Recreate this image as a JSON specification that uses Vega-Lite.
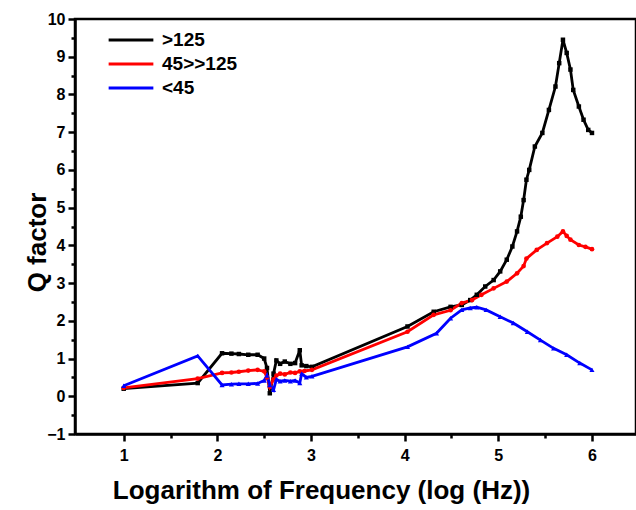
{
  "$schema": "https://vega.github.io/schema/vega-lite/v6.json",
  "autosize": {"type": "none"},
  "width": 561,
  "height": 415,
  "padding": {"left": 75, "top": 19, "right": 0, "bottom": 76},
  "background": "white",
  "config": {
    "view": {"stroke": "black", "strokeWidth": 2.5},
    "font": "Liberation Sans",
    "axis": {
      "domainColor": "black", "domainWidth": 2.5,
      "tickColor": "black", "tickWidth": 2.5,
      "labelFont": "Liberation Sans", "labelFontWeight": "bold", "labelFontSize": 16, "labelColor": "black",
      "titleFont": "Liberation Sans", "titleFontWeight": "bold", "titleFontSize": 26, "titleColor": "black",
      "grid": false
    },
    "legend": {
      "labelFont": "Liberation Sans", "labelFontWeight": "bold", "labelFontSize": 19, "labelColor": "black",
      "symbolType": "stroke", "symbolStrokeWidth": 3, "symbolSize": 2000, "rowPadding": 0, "labelOffset": 7,
      "clipHeight": 24
    }
  },
  "data": {"values": [
    {"series": ">125", "x": 1.0, "q": 0.2},
    {"series": ">125", "x": 1.79, "q": 0.35},
    {"series": ">125", "x": 2.05, "q": 1.14},
    {"series": ">125", "x": 2.15, "q": 1.13},
    {"series": ">125", "x": 2.23, "q": 1.12},
    {"series": ">125", "x": 2.33, "q": 1.1},
    {"series": ">125", "x": 2.43, "q": 1.1},
    {"series": ">125", "x": 2.5, "q": 1.0},
    {"series": ">125", "x": 2.53, "q": 0.75},
    {"series": ">125", "x": 2.56, "q": 0.08},
    {"series": ">125", "x": 2.6, "q": 0.6},
    {"series": ">125", "x": 2.63, "q": 0.95},
    {"series": ">125", "x": 2.67, "q": 0.86},
    {"series": ">125", "x": 2.72, "q": 0.92},
    {"series": ">125", "x": 2.78, "q": 0.86},
    {"series": ">125", "x": 2.83, "q": 0.88},
    {"series": ">125", "x": 2.88, "q": 1.22},
    {"series": ">125", "x": 2.9, "q": 0.82},
    {"series": ">125", "x": 2.95, "q": 0.8},
    {"series": ">125", "x": 3.01, "q": 0.78},
    {"series": ">125", "x": 4.03, "q": 1.85},
    {"series": ">125", "x": 4.31, "q": 2.24},
    {"series": ">125", "x": 4.49, "q": 2.37},
    {"series": ">125", "x": 4.61, "q": 2.42},
    {"series": ">125", "x": 4.7, "q": 2.55},
    {"series": ">125", "x": 4.77, "q": 2.69},
    {"series": ">125", "x": 4.86, "q": 2.91},
    {"series": ">125", "x": 4.95, "q": 3.08},
    {"series": ">125", "x": 5.02, "q": 3.31},
    {"series": ">125", "x": 5.09, "q": 3.62},
    {"series": ">125", "x": 5.15, "q": 3.97},
    {"series": ">125", "x": 5.2, "q": 4.37},
    {"series": ">125", "x": 5.24, "q": 4.76},
    {"series": ">125", "x": 5.27, "q": 5.2},
    {"series": ">125", "x": 5.3, "q": 5.74},
    {"series": ">125", "x": 5.33, "q": 6.0},
    {"series": ">125", "x": 5.39, "q": 6.62},
    {"series": ">125", "x": 5.47, "q": 6.98},
    {"series": ">125", "x": 5.54, "q": 7.59},
    {"series": ">125", "x": 5.61, "q": 8.21},
    {"series": ">125", "x": 5.65, "q": 8.83},
    {"series": ">125", "x": 5.69, "q": 9.45},
    {"series": ">125", "x": 5.73, "q": 9.1},
    {"series": ">125", "x": 5.77, "q": 8.66},
    {"series": ">125", "x": 5.8, "q": 8.12},
    {"series": ">125", "x": 5.86, "q": 7.68},
    {"series": ">125", "x": 5.91, "q": 7.33},
    {"series": ">125", "x": 5.96, "q": 7.06},
    {"series": ">125", "x": 6.0, "q": 6.98},
    {"series": "45>>125", "x": 1.0, "q": 0.22},
    {"series": "45>>125", "x": 1.79, "q": 0.47},
    {"series": "45>>125", "x": 2.05, "q": 0.62},
    {"series": "45>>125", "x": 2.15, "q": 0.63},
    {"series": "45>>125", "x": 2.23, "q": 0.65},
    {"series": "45>>125", "x": 2.33, "q": 0.68},
    {"series": "45>>125", "x": 2.43, "q": 0.7},
    {"series": "45>>125", "x": 2.5, "q": 0.66},
    {"series": "45>>125", "x": 2.53, "q": 0.5},
    {"series": "45>>125", "x": 2.56, "q": 0.25},
    {"series": "45>>125", "x": 2.6, "q": 0.45},
    {"series": "45>>125", "x": 2.63, "q": 0.55},
    {"series": "45>>125", "x": 2.67, "q": 0.6},
    {"series": "45>>125", "x": 2.72, "q": 0.58},
    {"series": "45>>125", "x": 2.78, "q": 0.63},
    {"series": "45>>125", "x": 2.83, "q": 0.62},
    {"series": "45>>125", "x": 2.88, "q": 0.66},
    {"series": "45>>125", "x": 2.93, "q": 0.67},
    {"series": "45>>125", "x": 3.01, "q": 0.7},
    {"series": "45>>125", "x": 4.03, "q": 1.71},
    {"series": "45>>125", "x": 4.31, "q": 2.16},
    {"series": "45>>125", "x": 4.49, "q": 2.28},
    {"series": "45>>125", "x": 4.61, "q": 2.47},
    {"series": "45>>125", "x": 4.72, "q": 2.55},
    {"series": "45>>125", "x": 4.82, "q": 2.69},
    {"series": "45>>125", "x": 4.95, "q": 2.86},
    {"series": "45>>125", "x": 5.09, "q": 3.04},
    {"series": "45>>125", "x": 5.2, "q": 3.26},
    {"series": "45>>125", "x": 5.27, "q": 3.45},
    {"series": "45>>125", "x": 5.3, "q": 3.65},
    {"series": "45>>125", "x": 5.41, "q": 3.88},
    {"series": "45>>125", "x": 5.52, "q": 4.06},
    {"series": "45>>125", "x": 5.63, "q": 4.23},
    {"series": "45>>125", "x": 5.69, "q": 4.37},
    {"series": "45>>125", "x": 5.73, "q": 4.25},
    {"series": "45>>125", "x": 5.77, "q": 4.15},
    {"series": "45>>125", "x": 5.86, "q": 4.01},
    {"series": "45>>125", "x": 5.93, "q": 3.96},
    {"series": "45>>125", "x": 6.0, "q": 3.9},
    {"series": "<45", "x": 1.0, "q": 0.28},
    {"series": "<45", "x": 1.79, "q": 1.07},
    {"series": "<45", "x": 2.05, "q": 0.3},
    {"series": "<45", "x": 2.15, "q": 0.32},
    {"series": "<45", "x": 2.23, "q": 0.33},
    {"series": "<45", "x": 2.33, "q": 0.33},
    {"series": "<45", "x": 2.43, "q": 0.34},
    {"series": "<45", "x": 2.5, "q": 0.42},
    {"series": "<45", "x": 2.53, "q": 0.55},
    {"series": "<45", "x": 2.56, "q": 0.3},
    {"series": "<45", "x": 2.6, "q": 0.17},
    {"series": "<45", "x": 2.63, "q": 0.45},
    {"series": "<45", "x": 2.67, "q": 0.4},
    {"series": "<45", "x": 2.72, "q": 0.42},
    {"series": "<45", "x": 2.78, "q": 0.4},
    {"series": "<45", "x": 2.83, "q": 0.42},
    {"series": "<45", "x": 2.88, "q": 0.35},
    {"series": "<45", "x": 2.9, "q": 0.6},
    {"series": "<45", "x": 2.95, "q": 0.5},
    {"series": "<45", "x": 3.01, "q": 0.53},
    {"series": "<45", "x": 4.03, "q": 1.31},
    {"series": "<45", "x": 4.34, "q": 1.67},
    {"series": "<45", "x": 4.49, "q": 2.07},
    {"series": "<45", "x": 4.61, "q": 2.29},
    {"series": "<45", "x": 4.7, "q": 2.34},
    {"series": "<45", "x": 4.77, "q": 2.36},
    {"series": "<45", "x": 4.87, "q": 2.29},
    {"series": "<45", "x": 5.02, "q": 2.11},
    {"series": "<45", "x": 5.16, "q": 1.94},
    {"series": "<45", "x": 5.31, "q": 1.71},
    {"series": "<45", "x": 5.45, "q": 1.49},
    {"series": "<45", "x": 5.59, "q": 1.27},
    {"series": "<45", "x": 5.73, "q": 1.1},
    {"series": "<45", "x": 5.87, "q": 0.88},
    {"series": "<45", "x": 6.0, "q": 0.7}
  ]},
  "encoding": {
    "x": {
      "field": "x", "type": "quantitative",
      "scale": {"domain": [0.48, 6.47], "nice": false, "zero": false},
      "axis": {
        "title": "Logarithm of Frequency (log (Hz))",
        "values": [1, 1.5, 2, 2.5, 3, 3.5, 4, 4.5, 5, 5.5, 6],
        "labelExpr": "datum.value % 1 === 0 ? format(datum.value, 'd') : ''",
        "tickSize": {"condition": {"test": "datum.value % 1 === 0", "value": 7}, "value": 4},
        "labelPadding": 6, "titlePadding": 14, "labelFlush": false,
        "titleX": 246, "titleAlign": "center"
      }
    },
    "y": {
      "field": "q", "type": "quantitative",
      "scale": {"domain": [-1, 10], "nice": false, "zero": false},
      "axis": {
        "title": "Q factor",
        "values": [-1, -0.5, 0, 0.5, 1, 1.5, 2, 2.5, 3, 3.5, 4, 4.5, 5, 5.5, 6, 6.5, 7, 7.5, 8, 8.5, 9, 9.5, 10],
        "labelExpr": "datum.value % 1 === 0 ? format(datum.value, 'd') : ''",
        "tickSize": {"condition": {"test": "datum.value % 1 === 0", "value": 7}, "value": 4},
        "labelPadding": 3, "labelFlush": false,
        "titleX": -25, "titleY": 223, "titleAlign": "center", "titleBaseline": "bottom", "titleAngle": -90
      }
    }
  },
  "layer": [
    {
      "mark": {"type": "line", "strokeWidth": 2.8},
      "encoding": {
        "color": {
          "field": "series", "type": "nominal",
          "scale": {"domain": [">125", "45>>125", "<45"], "range": ["#000000", "#FF0000", "#0000FF"]},
          "legend": {"title": null, "orient": "none", "legendX": 32, "legendY": 9}
        }
      }
    },
    {
      "transform": [{"filter": "datum.series === '>125'"}],
      "mark": {"type": "point", "filled": true, "opacity": 1, "shape": "square", "color": "#000000", "size": 20}
    },
    {
      "transform": [{"filter": "datum.series === '45>>125'"}],
      "mark": {"type": "point", "filled": true, "opacity": 1, "shape": "circle", "color": "#FF0000", "size": 22}
    },
    {
      "transform": [{"filter": "datum.series === '<45'"}],
      "mark": {"type": "point", "filled": true, "opacity": 1, "shape": "triangle-up", "color": "#0000FF", "size": 26}
    }
  ]
}
